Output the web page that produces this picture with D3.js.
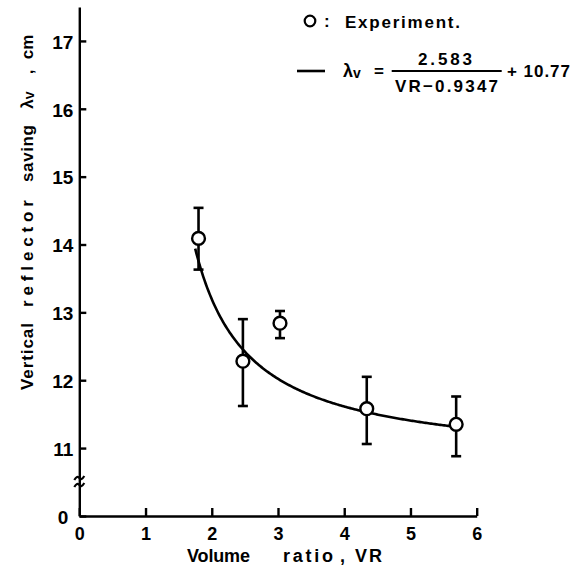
<!DOCTYPE html>
<html>
<head>
<meta charset="utf-8">
<script src="https://cdn.jsdelivr.net/npm/d3@7"></script>
<style>
  html, body { margin: 0; padding: 0; background: #fff; }
  svg { display: block; }
  text { font-family: "Liberation Sans", Arial, Helvetica, sans-serif; font-weight: bold; fill: #000; }
</style>
</head>
<body>
<svg id="chart" width="585" height="569"></svg>
<script>
// Measured volume ratios and vertical reflector savings (cm)
const volumeRatio = [1.80, 2.47, 3.03, 4.34, 5.69];
const reflectorSaving = [14.09, 12.28, 12.84, 11.58, 11.35];
const savingLow = [13.63, 11.62, 12.62, 11.06, 10.88];
const savingHigh = [14.54, 12.90, 13.02, 12.05, 11.76];

// Fitted curve: lambda_v = A / (VR - B) + C
const fitA = 2.583;
const fitB = 0.9347;
const fitC = 10.77;
const fitFrom = 1.75;
const fitTo = 5.69;

const xTicks = [0, 1, 2, 3, 4, 5, 6];
const yTicks = [0, 11, 12, 13, 14, 15, 16, 17];

const svg = d3.select("#chart");

const x = d3.scaleLinear().domain([0, 6]).range([79.3, 476.7]);
// broken y axis: 0 at the bottom, then 10.5 .. 17.5 above the break
const y = d3.scaleLinear().domain([0, 10.5, 17.5]).range([516, 482, 7]);

// axes
const yAxis = svg.append("g")
  .attr("transform", `translate(${x(0)},0)`)
  .call(d3.axisLeft(y).tickValues(yTicks).tickFormat(d3.format("d"))
    .tickSizeInner(-7).tickSizeOuter(0).tickPadding(6));
yAxis.selectAll("text").style("font-size", "19px").attr("dy", "0.38em");
yAxis.selectAll(".tick").filter(d => d === 0).select("text").attr("x", -11);

const xAxis = svg.append("g")
  .attr("transform", `translate(0,${y(0)})`)
  .call(d3.axisBottom(x).tickValues(xTicks).tickFormat(d3.format("d"))
    .tickSizeInner(-8).tickSizeOuter(0).tickPadding(11));
xAxis.selectAll("text").style("font-size", "18px");

svg.selectAll(".domain, .tick line").attr("stroke", "#000").attr("stroke-width", 2.4);
svg.selectAll(".tick text").attr("fill", "#000")
  .style("font-family", "'Liberation Sans', Arial, sans-serif").style("font-weight", "bold");

// axis break mark
const breakY = y(10.5);
[-4, 3].forEach(off => {
  svg.append("path")
    .attr("d", `M${x(0) - 5},${breakY + off + 2} q3,-5 5,-2 t5,-2`)
    .attr("fill", "none").attr("stroke", "#000").attr("stroke-width", 2.2);
});

// fitted curve
const fitVR = d3.range(fitFrom, fitTo, 0.02).concat([fitTo]);
const curve = d3.line()
  .x(v => x(v))
  .y(v => y(fitA / (v - fitB) + fitC));
svg.append("path")
  .attr("d", curve(fitVR))
  .attr("fill", "none").attr("stroke", "#000").attr("stroke-width", 2.6);

// error bars
const capHalf = 5;
const bars = svg.append("g").attr("stroke", "#000").attr("stroke-width", 2.6);
volumeRatio.forEach((v, i) => {
  bars.append("line").attr("x1", x(v)).attr("x2", x(v)).attr("y1", y(savingLow[i])).attr("y2", y(savingHigh[i]));
  bars.append("line").attr("x1", x(v) - capHalf).attr("x2", x(v) + capHalf).attr("y1", y(savingLow[i])).attr("y2", y(savingLow[i]));
  bars.append("line").attr("x1", x(v) - capHalf).attr("x2", x(v) + capHalf).attr("y1", y(savingHigh[i])).attr("y2", y(savingHigh[i]));
});

// experimental points
svg.append("g").selectAll("circle")
  .data(volumeRatio)
  .join("circle")
  .attr("cx", d => x(d))
  .attr("cy", (d, i) => y(reflectorSaving[i]))
  .attr("r", 6.4)
  .attr("fill", "#fff").attr("stroke", "#000").attr("stroke-width", 2.4);

// x axis title
const xt = [
  { t: "Volume", x: 187, w: 63 },
  { t: "ratio", x: 283, w: 50 },
  { t: ",", x: 340, w: 0 },
  { t: "VR", x: 355, w: 27 }
];
xt.forEach(d => {
  const tx = svg.append("text").attr("x", d.x).attr("y", 562).style("font-size", "18px").text(d.t);
  if (d.w) tx.attr("textLength", d.w).attr("lengthAdjust", "spacing");
});

// y axis title, word by word along the rotated baseline
const yTitle = [
  { t: "Vertical", c: 356.5, w: 67 },
  { t: "reflector", c: 253.5, w: 107 },
  { t: "saving", c: 153.5, w: 57 },
  { t: ",", c: 72, w: 0 },
  { t: "cm", c: 47, w: 0 }
];
yTitle.forEach(d => {
  const tx = svg.append("text")
    .attr("transform", `translate(33,${d.c}) rotate(-90)`)
    .attr("text-anchor", "middle")
    .style("font-size", "17px")
    .text(d.t);
  if (d.w) tx.attr("textLength", d.w).attr("lengthAdjust", "spacing");
});
const lam = svg.append("text")
  .attr("transform", `translate(33,100) rotate(-90)`)
  .attr("text-anchor", "middle")
  .style("font-size", "17px");
lam.append("tspan").text("λ");
lam.append("tspan").style("font-size", "14px").attr("dy", 1).text("v");

// legend
svg.append("circle").attr("cx", 310).attr("cy", 21).attr("r", 5.3)
  .attr("fill", "#fff").attr("stroke", "#000").attr("stroke-width", 2.2);
svg.append("text").attr("x", 324).attr("y", 27).style("font-size", "17px").text(":");
svg.append("text").attr("x", 345).attr("y", 27.5).attr("textLength", 115).attr("lengthAdjust", "spacing")
  .style("font-size", "17px").text("Experiment.");

svg.append("line").attr("x1", 297).attr("x2", 325).attr("y1", 71).attr("y2", 71)
  .attr("stroke", "#000").attr("stroke-width", 2.6);
const lv = svg.append("text").attr("x", 343).attr("y", 77).style("font-size", "18px");
lv.append("tspan").text("λ");
lv.append("tspan").style("font-size", "14px").attr("dy", 1).text("v");
svg.append("text").attr("x", 374).attr("y", 77).style("font-size", "17px").text("=");
svg.append("line").attr("x1", 391.7).attr("x2", 501.7).attr("y1", 71).attr("y2", 71)
  .attr("stroke", "#000").attr("stroke-width", 2.2);
svg.append("text").attr("x", 418).attr("y", 65).attr("textLength", 54).attr("lengthAdjust", "spacing")
  .style("font-size", "17px").text(fitA.toFixed(3));
svg.append("text").attr("x", 395).attr("y", 92).attr("textLength", 103).attr("lengthAdjust", "spacing")
  .style("font-size", "17px").text("VR−" + fitB.toFixed(4));
svg.append("text").attr("x", 507).attr("y", 77).attr("textLength", 63).attr("lengthAdjust", "spacing")
  .style("font-size", "17px").text("+ " + fitC.toFixed(2));
</script>
</body>
</html>
